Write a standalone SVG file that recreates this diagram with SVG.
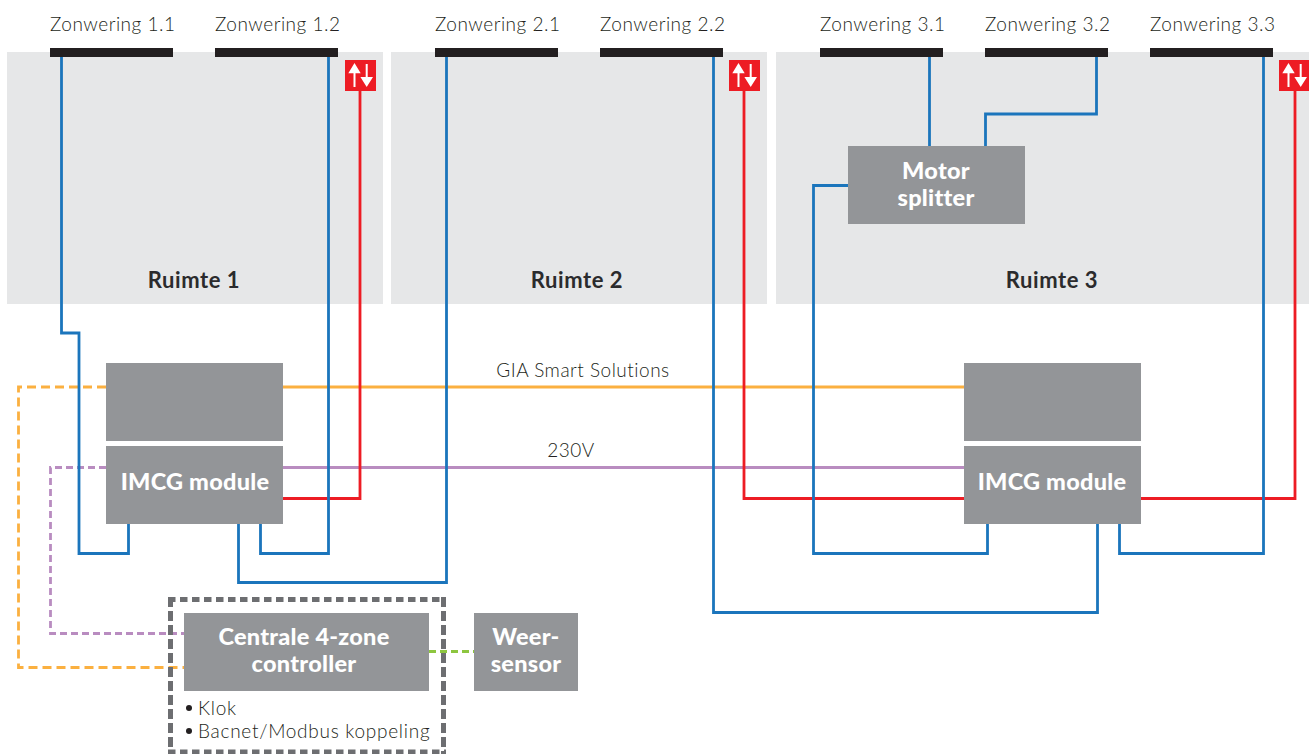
<svg xmlns="http://www.w3.org/2000/svg" width="1309" height="754" viewBox="0 0 1309 754">
<style>
.room{fill:#e6e7e8}
.bar{fill:#231f20}
.box{fill:#939598}
.red{fill:#ed1c24}
.t{font-family:"Lato","Noto Sans",sans-serif;font-size:19px;font-weight:300;letter-spacing:.5px;fill:#231f20}
.l{letter-spacing:.72px}
.rt{font-family:"Lato","Noto Sans",sans-serif;font-size:22px;font-weight:700;letter-spacing:.55px;fill:#2b2b2d;text-anchor:middle}
.w{font-family:"Lato","Noto Sans",sans-serif;font-size:23.500px;font-weight:900;letter-spacing:.25px;fill:#fff;text-anchor:middle}
.c{fill:none;stroke-width:2.800}
.blue{stroke:#1b75bc}.rl{stroke:#ed1c24}.or{stroke:#fbb040}.pu{stroke:#b98cc0}.gr{stroke:#8dc63f}
.d{stroke-dasharray:9 5}
.e{stroke-dasharray:7 4}
.ar{stroke:#fff;stroke-width:2;fill:none}.ah{fill:#fff}
.frame{fill:none;stroke:#6d6e71;stroke-width:5}
</style>
<g id="rooms">
<g id="ruimte-1"><rect class="room" x="7" y="52" width="376" height="252"/><text class="rt" x="194" y="288">Ruimte 1</text></g>
<g id="ruimte-2"><rect class="room" x="391" y="52" width="376" height="252"/><text class="rt" x="577" y="288">Ruimte 2</text></g>
<g id="ruimte-3"><rect class="room" x="776" y="52" width="533" height="252"/><text class="rt" x="1052" y="288">Ruimte 3</text></g>
</g>
<g id="connectors">
<path class="c or" d="M283 387H964"/>
<path class="c or d" d="M106 387H18.500V667.500H184"/>
<path class="c pu" d="M283 467.500H964"/>
<path class="c pu e" d="M106 467.500H50.500V633.500H184"/>
<path class="c gr e" d="M429 651.500H474"/>
<path class="c rl" d="M360 91V498.500H283"/>
<path class="c rl" d="M744 91V498.500H964"/>
<path class="c rl" d="M1295 91V498.500H1141"/>
<path class="c blue" d="M61.500 57V333H79V553.500H128.500V524"/>
<path class="c blue" d="M328.500 57V553.500H260.500V524"/>
<path class="c blue" d="M446.500 57V582.500H238.500V524"/>
<path class="c blue" d="M713.500 57V612.500H1097.500V524"/>
<path class="c blue" d="M929.500 57V146"/>
<path class="c blue" d="M1096.500 57V114H985.500V146"/>
<path class="c blue" d="M848 185.500H813.500V553.500H987.500V524"/>
<path class="c blue" d="M1263.500 57V553.500H1119.500V524"/>
</g>
<g id="zonwering-1-1"><rect class="bar" x="50" y="48" width="123" height="9"/><text class="t" x="50" y="30.500">Zonwering 1.1</text></g>
<g id="zonwering-1-2"><rect class="bar" x="215" y="48" width="123" height="9"/><text class="t" x="215" y="30.500">Zonwering 1.2</text></g>
<g id="zonwering-2-1"><rect class="bar" x="435" y="48" width="123" height="9"/><text class="t" x="435" y="30.500">Zonwering 2.1</text></g>
<g id="zonwering-2-2"><rect class="bar" x="600" y="48" width="123" height="9"/><text class="t" x="600" y="30.500">Zonwering 2.2</text></g>
<g id="zonwering-3-1"><rect class="bar" x="820" y="48" width="123" height="9"/><text class="t" x="820" y="30.500">Zonwering 3.1</text></g>
<g id="zonwering-3-2"><rect class="bar" x="985" y="48" width="123" height="9"/><text class="t" x="985" y="30.500">Zonwering 3.2</text></g>
<g id="zonwering-3-3"><rect class="bar" x="1150" y="48" width="123" height="9"/><text class="t" x="1150" y="30.500">Zonwering 3.3</text></g>
<defs>
<g id="updown">
<rect class="red" x="0" y="0" width="31" height="31"/>
<path class="ar" d="M9.500 10V27M21.700 4V20"/>
<path class="ah" d="M9.500 3L15.700 13.300H3.300ZM21.700 27L28 17H15.400Z"/>
</g>
</defs>
<g id="switch-1"><use href="#updown" x="345" y="60"/></g>
<g id="switch-2"><use href="#updown" x="729" y="60"/></g>
<g id="switch-3"><use href="#updown" x="1279" y="60"/></g>
<g id="motor-splitter"><rect class="box" x="848" y="146" width="177" height="78"/><text class="w" x="936" y="179">Motor</text><text class="w" x="936" y="206">splitter</text></g>
<g id="gia-module-1"><rect class="box" x="106" y="363" width="177" height="78"/></g>
<g id="imcg-module-1"><rect class="box" x="106" y="446" width="177" height="78"/><text class="w" x="195" y="490">IMCG module</text></g>
<g id="gia-module-2"><rect class="box" x="964" y="363" width="177" height="78"/></g>
<g id="imcg-module-2"><rect class="box" x="964" y="446" width="177" height="78"/><text class="w" x="1052" y="490">IMCG module</text></g>
<g id="labels">
<text class="t" x="583" y="377" text-anchor="middle">GIA Smart Solutions</text>
<text class="t" x="571" y="457" text-anchor="middle">230V</text>
</g>
<g id="controller">
<path class="frame" stroke-dasharray="7.500 4.500" d="M168 599.500H446M168 752H446"/>
<path class="frame" stroke-dasharray="10 4" d="M170.500 597V754M443.500 597V754"/>
<rect class="box" x="184" y="613" width="245" height="78"/>
<text class="w" x="304" y="645">Centrale 4-zone</text>
<text class="w" x="304" y="672">controller</text>
<circle cx="189" cy="708" r="3" fill="#231f20"/>
<text class="t l" x="198" y="715">Klok</text>
<circle cx="189" cy="731" r="3" fill="#231f20"/>
<text class="t l" x="198" y="738">Bacnet/Modbus koppeling</text>
</g>
<g id="weersensor"><rect class="box" x="474" y="613" width="104" height="78"/><text class="w" x="526" y="645">Weer-</text><text class="w" x="526" y="672">sensor</text></g>
</svg>
